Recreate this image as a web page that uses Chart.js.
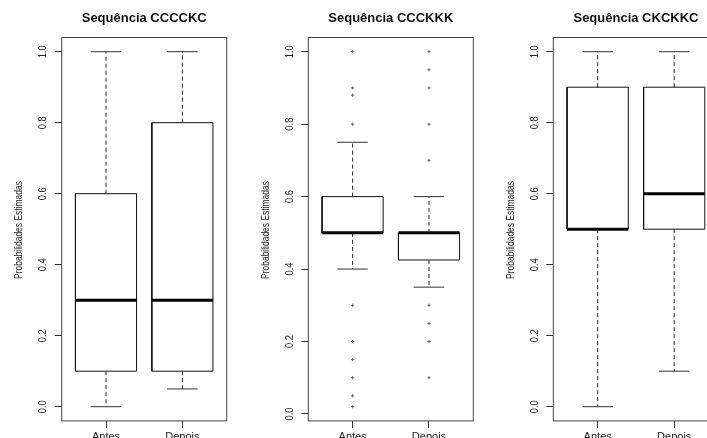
<!DOCTYPE html>
<html>
<head>
<meta charset="utf-8">
<script src="https://cdn.jsdelivr.net/npm/chart.js@4/dist/chart.umd.min.js"></script>
<style>
html, body { margin: 0; padding: 0; background: #fff; overflow: hidden; width: 707px; height: 438px; }
.panel { position: absolute; top: 0; }
canvas { display: block; }
</style>
</head>
<body>
<div class="panel" style="left:0px"><canvas id="c1" width="236" height="438"></canvas></div>
<div class="panel" style="left:245px"><canvas id="c2" width="235" height="438"></canvas></div>
<div class="panel" style="left:491px"><canvas id="c3" width="230" height="438"></canvas></div>
<script>
// ---------- data ----------
const categories = ['Antes', 'Depois'];
const panelTitles = ['Sequência CCCCKC', 'Sequência CCCKKK', 'Sequência CKCKKC'];
const yTickValues = [0.0, 0.2, 0.4, 0.6, 0.8, 1.0];
const yAxisLabel = 'Probabilidades Estimadas';

// Panel 1: Sequência CCCCKC  (Antes, Depois)
const p1Low    = [0.00, 0.05];
const p1Q1     = [0.10, 0.10];
const p1Median = [0.30, 0.30];
const p1Q3     = [0.60, 0.80];
const p1High   = [1.00, 1.00];
const p1OutAntes  = [];
const p1OutDepois = [];

// Panel 2: Sequência CCCKKK
const p2Low    = [0.40, 0.35];
const p2Q1     = [0.50, 0.425];
const p2Median = [0.50, 0.50];
const p2Q3     = [0.60, 0.50];
const p2High   = [0.75, 0.60];
const p2OutAntes  = [1.00, 0.90, 0.88, 0.80, 0.30, 0.20, 0.15, 0.10, 0.05, 0.02];
const p2OutDepois = [1.00, 0.95, 0.90, 0.80, 0.70, 0.30, 0.25, 0.20, 0.10];

// Panel 3: Sequência CKCKKC
const p3Low    = [0.00, 0.10];
const p3Q1     = [0.50, 0.50];
const p3Median = [0.50, 0.60];
const p3Q3     = [0.90, 0.90];
const p3High   = [1.00, 1.00];
const p3OutAntes  = [];
const p3OutDepois = [];

// ---------- layout (not data) ----------
const SANS = '"Liberation Sans", Arial, sans-serif';
Chart.defaults.font.family = SANS;

const panels = [
  { id: 'c1', title: panelTitles[0], yWidth: 61.7, padRight: 9.3, yMin: -0.04, yMax: 1.04,
    low: p1Low, q1: p1Q1, med: p1Median, q3: p1Q3, high: p1High, out: [p1OutAntes, p1OutDepois] },
  { id: 'c2', title: panelTitles[1], yWidth: 63.3, padRight: 6.7, yMin: -0.0192, yMax: 1.0392,
    low: p2Low, q1: p2Q1, med: p2Median, q3: p2Q3, high: p2High, out: [p2OutAntes, p2OutDepois] },
  { id: 'c3', title: panelTitles[2], yWidth: 62.3, padRight: 2.4, yMin: -0.04, yMax: 1.04,
    low: p3Low, q1: p3Q1, med: p3Median, q3: p3Q3, high: p3High, out: [p3OutAntes, p3OutDepois] }
];

const BOX_HALF = 0.4, CAP_HALF = 0.2;

function seg(points, style) {
  return Object.assign({
    data: points, showLine: true, pointRadius: 0, pointHoverRadius: 0,
    borderColor: '#000', borderWidth: 1, fill: false, tension: 0
  }, style);
}

function buildDatasets(p) {
  const ds = [];
  categories.forEach((c, i) => {
    const x = i + 1;
    ds.push(seg([{x: x, y: p.q3[i]}, {x: x, y: p.high[i]}], {borderDash: [4, 3], borderColor: '#222'}));
    ds.push(seg([{x: x, y: p.q1[i]}, {x: x, y: p.low[i]}], {borderDash: [4, 3], borderColor: '#222'}));
    ds.push(seg([{x: x - CAP_HALF, y: p.high[i]}, {x: x + CAP_HALF, y: p.high[i]}], {borderColor: '#333'}));
    ds.push(seg([{x: x - CAP_HALF, y: p.low[i]}, {x: x + CAP_HALF, y: p.low[i]}], {borderColor: '#333'}));
    ds.push(seg([
      {x: x - BOX_HALF, y: p.q1[i]}, {x: x + BOX_HALF, y: p.q1[i]},
      {x: x + BOX_HALF, y: p.q3[i]}, {x: x - BOX_HALF, y: p.q3[i]},
      {x: x - BOX_HALF, y: p.q1[i]}
    ], {borderColor: '#111', backgroundColor: '#fff', fill: true}));
    ds.push(seg([{x: x - BOX_HALF, y: p.med[i]}, {x: x + BOX_HALF, y: p.med[i]}], {borderWidth: 3, borderColor: '#000'}));
    if (p.out[i].length) {
      ds.push({
        data: p.out[i].map(v => ({x: x, y: v})), showLine: false,
        pointStyle: 'cross', pointRadius: 1.6, pointBorderWidth: 1,
        pointBorderColor: '#666', pointHoverRadius: 1.6
      });
    }
  });
  return ds;
}

function drawRotated(ctx, text, x, y, font, sx) {
  ctx.save();
  ctx.translate(x, y);
  ctx.rotate(-Math.PI / 2);
  ctx.scale(sx, 1);
  ctx.font = font;
  ctx.textAlign = 'center';
  ctx.textBaseline = 'alphabetic';
  ctx.fillText(text, 0, 0);
  ctx.restore();
}

const framePlugin = {
  id: 'rframe',
  afterDraw(chart) {
    const {ctx, chartArea: a} = chart;
    const y = chart.scales.y;
    ctx.save();
    ctx.strokeStyle = '#444';
    ctx.lineWidth = 1;
    ctx.strokeRect(a.left, a.top, a.right - a.left, a.bottom - a.top);
    ctx.fillStyle = '#222';
    y.ticks.forEach(t => {
      const py = y.getPixelForValue(t.value);
      drawRotated(ctx, Number(t.value).toFixed(1), a.left - 15.5, py, '11px ' + SANS, 0.85);
    });
    drawRotated(ctx, yAxisLabel, a.left - 39.5, (a.top + a.bottom) / 2 + 0.8, '11px ' + SANS, 0.77);
    ctx.restore();
  }
};

panels.forEach(p => {
  new Chart(document.getElementById(p.id), {
    type: 'scatter',
    data: { datasets: buildDatasets(p) },
    plugins: [framePlugin],
    options: {
      responsive: false,
      animation: false,
      events: [],
      layout: { padding: { left: 0, right: p.padRight, top: 0, bottom: 0 } },
      plugins: {
        legend: { display: false },
        tooltip: { enabled: false },
        title: {
          display: true, text: p.title, fullSize: false,
          font: { family: SANS, size: 13, weight: 'bold' }, color: '#111',
          padding: { top: 10.4, bottom: 11.5 }
        }
      },
      scales: {
        x: {
          type: 'linear', position: 'bottom', min: 0.42, max: 2.58,
          afterBuildTicks: s => { s.ticks = categories.map((c, i) => ({ value: i + 1 })); },
          afterFit: s => { s.height = 17.1; },
          ticks: {
            callback: v => categories[Math.round(v) - 1],
            font: { family: SANS, size: 11 }, color: '#222', padding: 2,
            maxRotation: 0, autoSkip: false
          },
          grid: { display: true, drawOnChartArea: false, drawTicks: true, tickLength: 7, tickColor: '#333', lineWidth: 1 },
          border: { display: false }
        },
        y: {
          type: 'linear', position: 'left', min: p.yMin, max: p.yMax,
          afterBuildTicks: s => { s.ticks = yTickValues.map(v => ({ value: v })); },
          afterFit: s => { s.width = p.yWidth; },
          ticks: { display: false },
          grid: { display: true, drawOnChartArea: false, drawTicks: true, tickLength: 7, tickColor: '#333', lineWidth: 1 },
          border: { display: false }
        }
      }
    }
  });
});
</script>
</body>
</html>
